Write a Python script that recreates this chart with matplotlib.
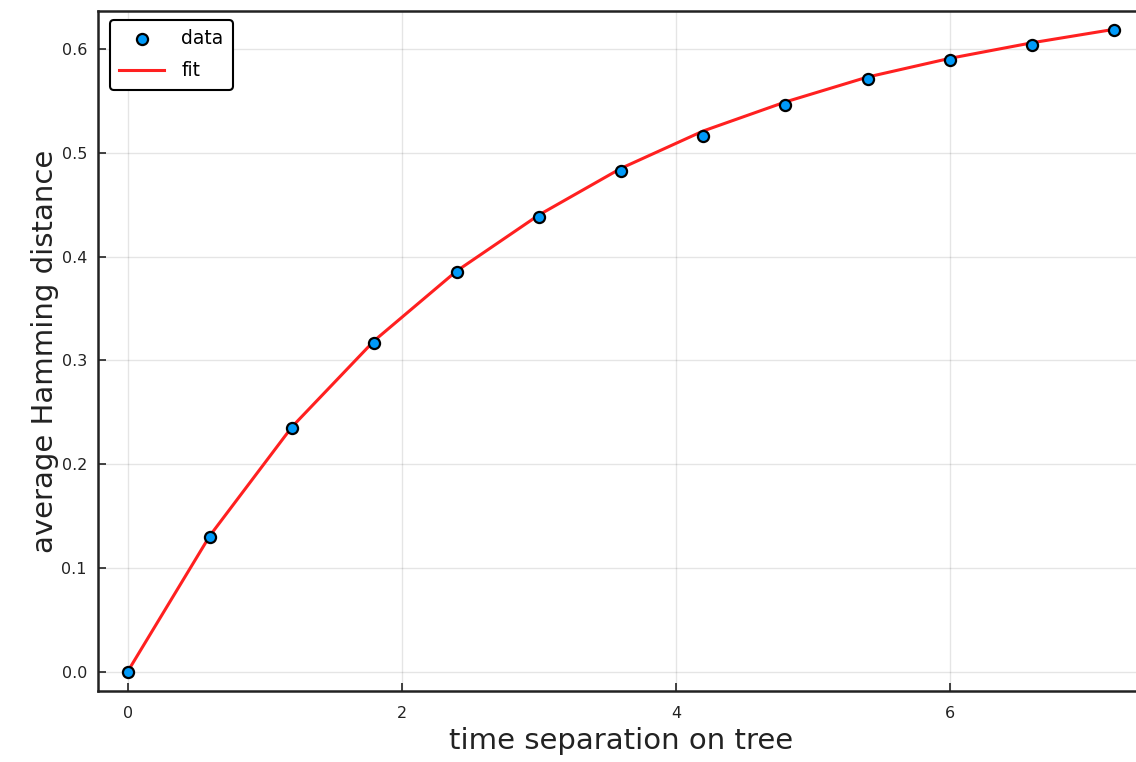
import numpy as np
import matplotlib.pyplot as plt

# time separation on the tree and mean Hamming distance between sequences
t = [0.0, 0.6, 1.2, 1.8, 2.4, 3.0, 3.6, 4.2, 4.8, 5.4, 6.0, 6.6, 7.2]
dist = [0.0, 0.130, 0.235, 0.317, 0.385, 0.438, 0.482, 0.516, 0.546, 0.571, 0.589, 0.604, 0.618]
# fitted curve evaluated at the same times
dist_fit = [0.0, 0.131, 0.236, 0.319, 0.386, 0.440, 0.485, 0.521, 0.549, 0.573, 0.591, 0.606, 0.619]

plt.rcParams['font.family'] = ['DejaVu Sans']

fig = plt.figure(figsize=(11.36, 7.62), dpi=100)
ax = fig.add_axes([98 / 1136, 71 / 762, 1046 / 1136, 680 / 762])

ax.plot(t, dist_fit, color='#ff2020', lw=2.2, label='fit', zorder=2)
ax.scatter(t, dist, s=64, color='#009af9', edgecolors='black', linewidths=1.6,
           label='data', zorder=3)

ax.set_xlim(-0.216, 7.416)
ax.set_ylim(-0.0186, 0.6366)
ax.set_xticks([0, 2, 4, 6])
ax.set_yticks([0.0, 0.1, 0.2, 0.3, 0.4, 0.5, 0.6])
ax.set_yticklabels(['0.0', '0.1', '0.2', '0.3', '0.4', '0.5', '0.6'])

ax.grid(True, color='black', alpha=0.1, lw=1)
ax.tick_params(direction='in', length=6, width=1.2, labelsize=11.5, colors='#222222')
ax.tick_params(axis='x', pad=11)
ax.tick_params(axis='y', pad=8)
for side in ['left', 'bottom', 'top', 'right']:
    ax.spines[side].set_linewidth(1.8)
    ax.spines[side].set_color('#222222')

ax.set_xlabel('time separation on tree', fontsize=21, color='#222222', labelpad=4)
ax.set_ylabel('average Hamming distance', fontsize=21, color='#222222', labelpad=2)

handles, labels = ax.get_legend_handles_labels()
leg = ax.legend(handles[::-1], labels[::-1], loc='upper left', fontsize=13.5,
                frameon=True, fancybox=True, edgecolor='black', framealpha=1,
                borderpad=0.5, labelspacing=0.7, handlelength=2.4, handletextpad=0.9,
                borderaxespad=0, bbox_to_anchor=(12 / 1046, 1 - 9 / 680))
leg.get_frame().set_linewidth(1.5)

fig.savefig('out.png', dpi=100)
